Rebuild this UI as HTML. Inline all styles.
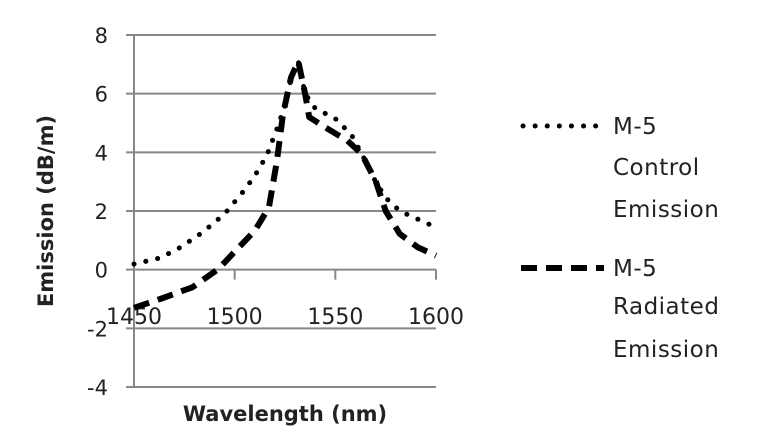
<!DOCTYPE html>
<html><head><meta charset="utf-8"><style>
html,body{margin:0;padding:0;background:#fff;}
svg{display:block;font-family:"DejaVu Sans","Liberation Sans",sans-serif;}
</style></head><body>
<svg id="c" width="768" height="442"></svg>
<script>
const xTicks=[1450,1500,1550,1600];
const yTicks=[-4,-2,0,2,4,6,8];
const controlX=[1450,1463,1473,1484,1495,1504,1510,1516,1521,1525,1528,1531.6,1535,1540,1550,1558,1565,1570,1575,1582,1590,1600];
const controlY=[0.19,0.4,0.76,1.27,1.9,2.64,3.2,3.9,4.8,5.6,6.5,7.1,6.0,5.5,5.15,4.6,3.7,3.0,2.45,2.0,1.75,1.44];
const radiatedX=[1450,1463,1479,1492,1499,1510,1517,1521,1524,1528,1531.6,1535,1537,1545,1556,1563,1570,1575,1582,1591,1600];
const radiatedY=[-1.3,-1.0,-0.6,0.03,0.54,1.33,2.12,3.7,5.3,6.55,7.1,6.0,5.2,4.85,4.4,3.95,3.03,2.0,1.22,0.76,0.48];
const NS="http://www.w3.org/2000/svg";
const svg=document.getElementById('c');
const X0=134,X1=436,Y0=387,Y1=35;
const sx=v=>X0+(v-1450)/150*(X1-X0);
const sy=v=>Y0-(v+4)/12*(Y0-Y1);
function mk(t,a,p){const e=document.createElementNS(NS,t);for(const k in a)e.setAttribute(k,a[k]);(p||svg).appendChild(e);return e;}
yTicks.forEach(v=>{
 const g=mk('line',{x1:126,x2:X1,y1:sy(v),y2:sy(v),stroke:'#888','stroke-width':2});
 
 
 const t=mk('text',{x:108,y:sy(v)+8,'text-anchor':'end','font-size':21,fill:'#222'});
 t.textContent=v;
 
 
});
const ax=mk('line',{x1:X0,x2:X0,y1:Y1,y2:Y0,stroke:'#888','stroke-width':2});


xTicks.forEach(v=>{
 const tk=mk('line',{x1:sx(v),x2:sx(v),y1:sy(0),y2:sy(0)+10,stroke:'#888','stroke-width':2});
 
 
 const t=mk('text',{x:sx(v),y:324,'text-anchor':'middle','font-size':22,fill:'#222'});
 t.textContent=v;
 
 
});
function path(xs,ys){return xs.map((x,i)=>(i?'L':'M')+sx(x).toFixed(1)+','+sy(ys[i]).toFixed(1)).join(' ');}
const c=mk('path',{d:path(controlX,controlY),fill:'none',stroke:'#000','stroke-width':5,'stroke-dasharray':'0.1 12','stroke-linecap':'round','stroke-linejoin':'round'});


const r=mk('path',{d:path(radiatedX,radiatedY),fill:'none',stroke:'#000','stroke-width':6,'stroke-dasharray':'16 9','stroke-linejoin':'round'});


const yt=mk('text',{x:0,y:0,transform:'translate(53,211) rotate(-90)','text-anchor':'middle','font-size':21,'font-weight':'bold',fill:'#222'});
yt.textContent='Emission (dB/m)';


const xt=mk('text',{x:285,y:421,'text-anchor':'middle','font-size':21,'font-weight':'bold',fill:'#222'});
xt.textContent='Wavelength (nm)';


const l1=mk('line',{x1:523,x2:604,y1:126,y2:126,stroke:'#000','stroke-width':5,'stroke-dasharray':'0.1 12','stroke-linecap':'round'});


const l2=mk('line',{x1:521,x2:604,y1:268,y2:268,stroke:'#000','stroke-width':6,'stroke-dasharray':'16 9'});


[['M-5',134],['Control',175],['Emission',217],['M-5',276],['Radiated',314],['Emission',357]].forEach(([s,y])=>{
 const t=mk('text',{x:613,y:y,'font-size':23,fill:'#222','letter-spacing':'0.5'});
 t.textContent=s;
 
 
});
</script>
</body></html>
